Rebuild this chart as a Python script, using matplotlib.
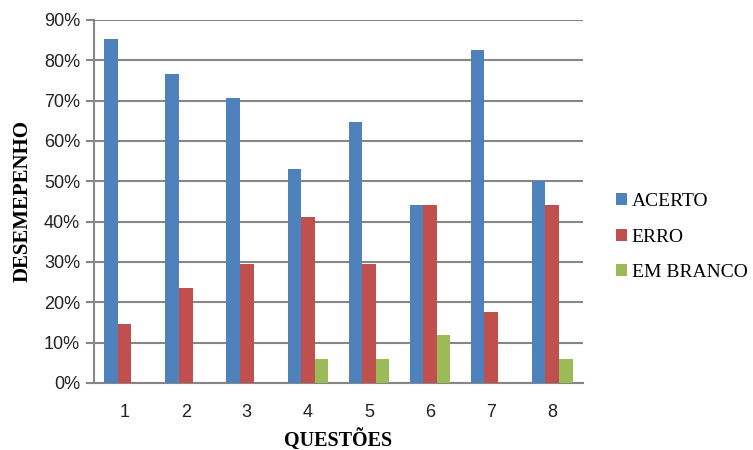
import numpy as np
import matplotlib.pyplot as plt
from matplotlib.ticker import PercentFormatter

# Desempenho por questão (fração dos alunos)
questoes = ["1", "2", "3", "4", "5", "6", "7", "8"]
acerto = [85.3, 76.5, 70.6, 52.9, 64.7, 44.1, 82.4, 50.0]
erro = [14.7, 23.5, 29.4, 41.2, 29.4, 44.1, 17.6, 44.1]
em_branco = [0.0, 0.0, 0.0, 5.9, 5.9, 11.8, 0.0, 5.9]

series = [
    ("ACERTO", acerto, "#4F81BD"),
    ("ERRO", erro, "#C0504D"),
    ("EM BRANCO", em_branco, "#9BBB59"),
]

fig = plt.figure(figsize=(7.53, 4.5), dpi=100)
ax = fig.add_axes([0.125, 0.149, 0.649, 0.807])

x = np.arange(len(questoes))
width = 1 / 4.5
for i, (name, vals, color) in enumerate(series):
    ax.bar(x + (i - 1) * width, vals, width, color=color, label=name, zorder=3)

ax.set_xlim(-0.5, len(questoes) - 0.5)
ax.set_ylim(0, 90)
ax.set_yticks(np.arange(0, 91, 10))
ax.yaxis.set_major_formatter(PercentFormatter(decimals=0))
ax.set_xticks(x)
ax.set_xticklabels(questoes)

ax.grid(axis="y", color="#868686", linewidth=1.5, zorder=0)
for side in ["top", "right"]:
    ax.spines[side].set_visible(False)
ax.spines["left"].set_color("#868686")
ax.spines["left"].set_linewidth(1.5)
ax.spines["bottom"].set_color("#868686")
ax.spines["bottom"].set_linewidth(1.5)
ax.tick_params(axis="y", length=6, width=1.5, color="#868686", labelsize=13,
               labelcolor="#222222", pad=4)
ax.tick_params(axis="x", length=0, labelsize=13, labelcolor="#222222", pad=15)
for lbl in ax.get_xticklabels() + ax.get_yticklabels():
    lbl.set_family("Liberation Sans")

ax.set_xlabel("QUESTÕES", family="Liberation Serif", fontweight="bold",
              fontsize=14.5, labelpad=6)
ax.set_ylabel("DESEMEPENHO", family="Liberation Serif", fontweight="bold",
              fontsize=15, labelpad=8)

handles, labels = ax.get_legend_handles_labels()
leg = fig.legend(handles, labels, loc="center left", bbox_to_anchor=(0.795, 0.473),
                 frameon=False, prop={"family": "Liberation Serif", "size": 14},
                 handlelength=0.55, handleheight=0.55, handletextpad=0.25,
                 labelspacing=0.95)

fig.savefig("out.png", dpi=100)
